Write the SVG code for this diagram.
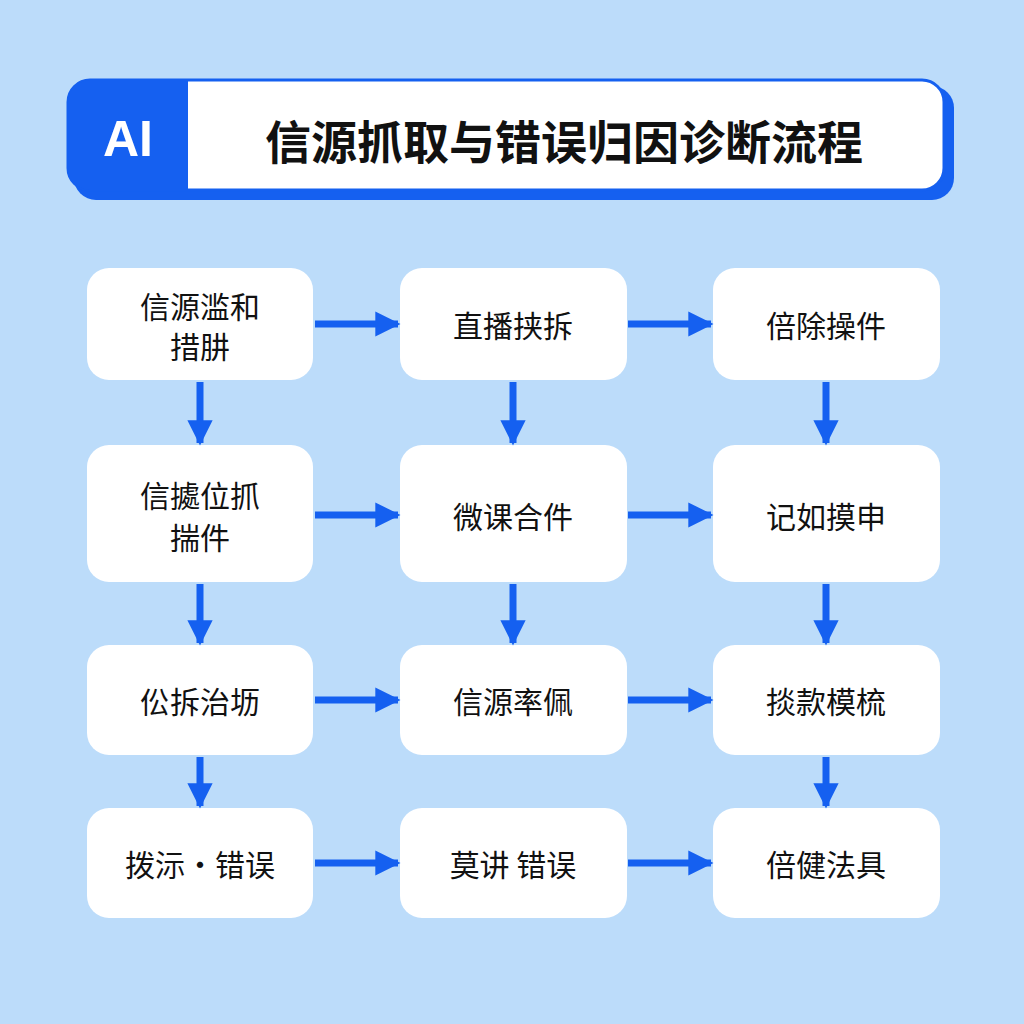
<svg xmlns="http://www.w3.org/2000/svg" width="1024" height="1024" viewBox="0 0 1024 1024">
<defs>
<style>
.n{fill:#fff}
.t{font-family:"Noto Sans CJK SC","Noto Sans",sans-serif;font-size:30px;fill:#111;text-anchor:middle;dominant-baseline:central}
.c{stroke:#1560f0;stroke-width:7;fill:none}
</style>
<marker id="a" viewBox="0 0 10 10" refX="9" refY="5" markerWidth="3.6" markerHeight="3.8" orient="auto" markerUnits="strokeWidth"><path d="M0,0L10,5L0,10z" fill="#1560f0"/></marker>
</defs>
<rect width="1024" height="1024" fill="#bcdcfa"/>
<g id="title">
<rect x="74" y="86" width="880" height="114" rx="22" fill="#1560f0"/>
<rect x="68" y="80" width="876" height="110" rx="22" fill="#fff" stroke="#1560f0" stroke-width="3"/>
<path d="M90,80H188V190H90A22,22 0 0 1 68,168V102A22,22 0 0 1 90,80Z" fill="#1560f0"/>
<text x="128" y="139" font-family="Liberation Sans,Arial,sans-serif" font-weight="bold" font-size="50" fill="#fff" text-anchor="middle" dominant-baseline="central">AI</text>
<text x="564" y="139" font-family="Noto Sans CJK SC,sans-serif" font-weight="bold" font-size="46" fill="#111" text-anchor="middle" dominant-baseline="central">信源抓取与错误归因诊断流程</text>
</g>
<g id="n11"><rect class="n" x="87" y="268" width="226" height="112" rx="22"/><text class="t" x="200" y="305">信源滥和</text><text class="t" x="200" y="345">措肼</text></g>
<g id="n12"><rect class="n" x="400" y="268" width="227" height="112" rx="22"/><text class="t" x="513" y="324">直播挟拆</text></g>
<g id="n13"><rect class="n" x="713" y="268" width="227" height="112" rx="22"/><text class="t" x="826" y="324">倍除操件</text></g>
<g id="n21"><rect class="n" x="87" y="445" width="226" height="137" rx="22"/><text class="t" x="200" y="494">信㨿位抓</text><text class="t" x="200" y="536">揣件</text></g>
<g id="n22"><rect class="n" x="400" y="445" width="227" height="137" rx="22"/><text class="t" x="513" y="515">微课合件</text></g>
<g id="n23"><rect class="n" x="713" y="445" width="227" height="137" rx="22"/><text class="t" x="826" y="515">记如摸申</text></g>
<g id="n31"><rect class="n" x="87" y="645" width="226" height="110" rx="22"/><text class="t" x="200" y="700">伀拆治坜</text></g>
<g id="n32"><rect class="n" x="400" y="645" width="227" height="110" rx="22"/><text class="t" x="513" y="700">信源率佩</text></g>
<g id="n33"><rect class="n" x="713" y="645" width="227" height="110" rx="22"/><text class="t" x="826" y="700">掞款模梳</text></g>
<g id="n41"><rect class="n" x="87" y="808" width="226" height="110" rx="22"/><text class="t" x="200" y="863">拨沶·错误</text></g>
<g id="n42"><rect class="n" x="400" y="808" width="227" height="110" rx="22"/><text class="t" x="513" y="863">莫讲 错误</text></g>
<g id="n43"><rect class="n" x="713" y="808" width="227" height="110" rx="22"/><text class="t" x="826" y="863">倍健法具</text></g>
<g id="connectors" class="c" marker-end="url(#a)">
<path d="M315,324H398"/><path d="M628,324H711"/>
<path d="M315,515H398"/><path d="M628,515H711"/>
<path d="M315,700H398"/><path d="M628,700H711"/>
<path d="M315,863H398"/><path d="M628,863H711"/>
<path d="M200,382V443"/><path d="M513,382V443"/><path d="M826,382V443"/>
<path d="M200,584V643"/><path d="M513,584V643"/><path d="M826,584V643"/>
<path d="M200,757V806"/><path d="M826,757V806"/>
</g>
</svg>
